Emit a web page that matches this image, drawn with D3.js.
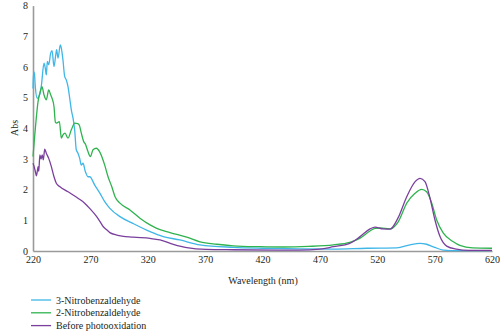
<!DOCTYPE html>
<html><head><meta charset="utf-8">
<script src="https://cdn.jsdelivr.net/npm/d3@7"></script>
<style>body{margin:0;background:#fff}svg{display:block}</style>
</head><body><svg id="c" width="500" height="333"></svg>
<script>
const xTicks = [220,270,320,370,420,470,520,570,620];
const yTicks = [0,1,2,3,4,5,6,7,8];
const seriesNames = ["3-Nitrobenzaldehyde","2-Nitrobenzaldehyde","Before photooxidation"];
const seriesColors = ["#3fb6e8","#2fb34f","#7a3f9d"];

const nitro3 = [[220,5.3],[220.5,5.85],[221.2,5.8],[222,5.36],[223.7,4.98],[225.8,5.09],[227.2,5.36],[229.6,6.12],[230.7,5.96],[231.6,5.74],[232.5,6.18],[233.7,6.07],[235.4,6.45],[236.6,6.53],[238.3,6.01],[239.8,6.39],[240.6,6.56],[241.8,6.29],[243.8,6.72],[244.7,6.61],[246.1,6.23],[247.6,5.69],[249,5.58],[250.5,5.36],[252,4.98],[253.4,4.6],[254.9,4.33],[256.3,3.95],[257.7,3.3],[259.2,3.19],[260.7,3.02],[262.1,2.8],[263.6,2.86],[265.6,2.59],[267.9,2.42],[269.4,2.42],[273.8,2.15],[278.4,1.88],[282.5,1.61],[287,1.39],[295.8,1.12],[307,0.9],[322,0.63],[333.5,0.47],[348,0.36],[365.5,0.2],[394.5,0.12],[420,0.09],[452,0.07],[482,0.06],[511,0.09],[537,0.1],[548.5,0.2],[557,0.25],[563,0.22],[570,0.12],[577.6,0.03],[590,0.01],[620,0.01]];

const nitro2 = [[220,3.08],[221.7,3.85],[224.4,4.87],[226.7,5.25],[227.8,5.36],[229.6,5.09],[231.6,4.93],[233.7,5.25],[235.4,5.09],[236.6,4.98],[238.3,4.71],[239.5,4.2],[240.6,4.17],[243,4.22],[244.7,3.68],[246,3.78],[247.9,3.84],[250.5,3.68],[253.4,3.95],[256.3,4.17],[259,4.15],[260.4,4.1],[262.1,3.84],[264.4,3.55],[265.5,3.5],[267.9,3.24],[270,3.08],[272.3,3.3],[275.2,3.35],[278,3.24],[282.5,2.8],[285.4,2.42],[288.6,2.1],[291.5,1.77],[295.8,1.56],[304.5,1.34],[313.2,1.07],[322,0.85],[327.8,0.74],[339.4,0.6],[354,0.45],[365.5,0.3],[380,0.22],[394.5,0.17],[418,0.14],[438,0.13],[460,0.15],[481.7,0.2],[496,0.28],[504.7,0.41],[513.7,0.65],[518,0.74],[522.4,0.75],[531,0.72],[538.4,0.96],[545.7,1.56],[552.9,1.88],[558.7,2.01],[563,1.93],[567.5,1.56],[571.8,1.01],[577.6,0.58],[586.3,0.3],[592,0.18],[603,0.1],[620,0.09]];

const before = [[220,2.86],[221,2.75],[222,2.6],[223,2.45],[224.5,2.75],[225,2.6],[226,3.13],[227,3.0],[228,3.13],[229,2.97],[230.2,3.32],[231.6,3.19],[233.7,3.02],[236,2.75],[238.3,2.42],[240.3,2.21],[243.2,2.1],[250.5,1.93],[259.2,1.72],[265,1.56],[269.4,1.39],[275.5,1.12],[278.4,0.96],[281.3,0.79],[284.2,0.69],[287,0.6],[293,0.52],[307.4,0.45],[322,0.41],[330.7,0.36],[342.3,0.22],[354,0.11],[371,0.05],[394.5,0.04],[452,0.03],[470,0.06],[481.7,0.14],[496,0.25],[504.7,0.46],[513.7,0.72],[518,0.78],[525,0.72],[531,0.71],[538,1.07],[545.7,1.77],[553,2.26],[557.3,2.37],[561.6,2.26],[566,1.72],[570.3,1.01],[574.7,0.47],[580.5,0.16],[589,0.06],[600,0.02],[620,0.02]];

const allSeries = [nitro3, nitro2, before];
const FONT = "'Liberation Serif', 'DejaVu Serif', serif";

const svg = d3.select("#c");
const x = d3.scaleLinear().domain([220,620]).range([33,492]);
const y = d3.scaleLinear().domain([0,8]).range([251,5.6]);

const line = d3.line().x(d=>x(d[0])).y(d=>y(d[1])).curve(d3.curveMonotoneX);

const gx = svg.append("g").attr("transform","translate(0,251)")
  .call(d3.axisBottom(x).tickValues(xTicks).tickSize(0).tickPadding(5).tickFormat(d3.format("d")));
gx.select(".domain").attr("stroke","#9a9a9a").attr("stroke-width",1.6);

const gy = svg.append("g").attr("transform","translate(33,0)")
  .call(d3.axisLeft(y).tickValues(yTicks).tickSize(0).tickPadding(5).tickFormat(d3.format("d")));
gy.select(".domain").attr("stroke","#9a9a9a").attr("stroke-width",1.6);

allSeries.forEach((s,i)=>{
  svg.append("path").datum(s).attr("d",line).attr("fill","none")
    .attr("stroke",seriesColors[i]).attr("stroke-width",1.3).attr("stroke-linejoin","round");
});

svg.append("text").attr("x",263).attr("y",284).attr("text-anchor","middle").text("Wavelength (nm)");
svg.append("text").attr("transform","translate(18,128) rotate(-90)").attr("text-anchor","middle").text("Abs");

const leg = svg.append("g");
seriesNames.forEach((n,i)=>{
  const yy = 300 + i*12.8;
  leg.append("line").attr("x1",31).attr("x2",51).attr("y1",yy).attr("y2",yy).attr("stroke",seriesColors[i]).attr("stroke-width",1.3);
  leg.append("text").attr("x",56).attr("y",yy+3.5).text(n);
});

svg.selectAll("text").style("font-family",FONT).style("font-size","10px").style("fill","#231f20");
</script></body></html>
